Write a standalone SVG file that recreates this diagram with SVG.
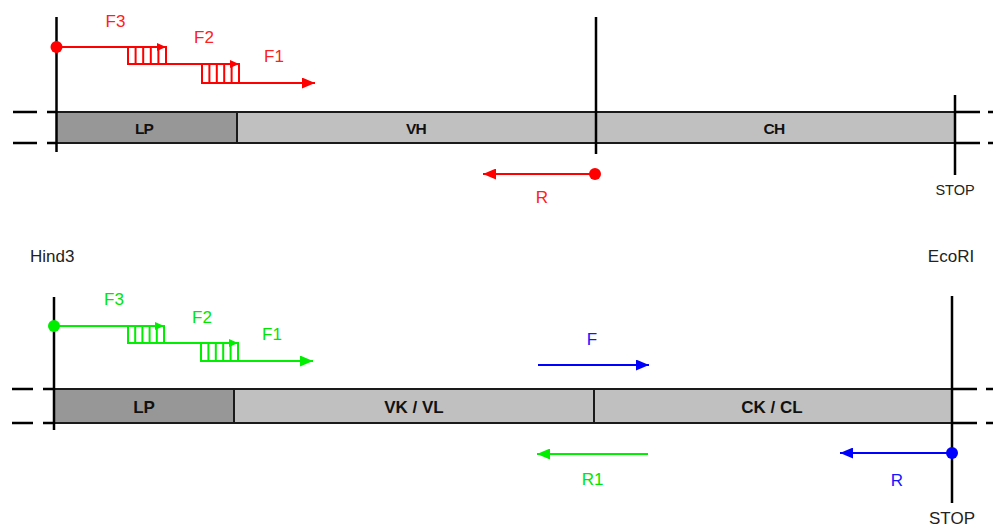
<svg xmlns="http://www.w3.org/2000/svg" width="993" height="528" viewBox="0 0 993 528">
  <style>
    .axis { stroke: #000; stroke-width: 2.5; fill: none; }
    .dash { stroke: #000; stroke-width: 2.5; fill: none; }
    .seg { stroke: #1a1a1a; stroke-width: 2; }
    .lp { fill: #979797; }
    .var { fill: #c0c0c0; }
    .red { stroke: #ff0000; stroke-width: 2; fill: none; }
    .grn { stroke: #00ee00; stroke-width: 2; fill: none; }
    .blu { stroke: #0000ff; stroke-width: 2; fill: none; }
    .lbl { font-family: "Liberation Sans", Arial, sans-serif; font-size: 17px; text-anchor: middle; }
    .seglbl { font-family: "Liberation Sans", Arial, sans-serif; font-size: 17px; font-weight: bold; text-anchor: middle; fill: #111; }
    .seglbl-top { font-family: "Liberation Sans", Arial, sans-serif; font-size: 15.5px; font-weight: bold; letter-spacing: -0.8px; text-anchor: middle; fill: #111; }
    .site { font-family: "Liberation Sans", Arial, sans-serif; font-size: 17px; fill: #222; }
    .tr { fill: #ff2020; }
    .tg { fill: #00e600; }
    .tb { fill: #1515ff; }
  </style>
  <defs>
    <marker id="headR" markerUnits="userSpaceOnUse" markerWidth="13" markerHeight="11" refX="13" refY="5.5" orient="auto">
      <path d="M0,0 L13,5.5 L0,11 z" fill="#ff0000"/>
    </marker>
    <marker id="headG" markerUnits="userSpaceOnUse" markerWidth="13" markerHeight="11" refX="13" refY="5.5" orient="auto">
      <path d="M0,0 L13,5.5 L0,11 z" fill="#00ee00"/>
    </marker>
    <marker id="headB" markerUnits="userSpaceOnUse" markerWidth="13" markerHeight="11" refX="13" refY="5.5" orient="auto">
      <path d="M0,0 L13,5.5 L0,11 z" fill="#0000ff"/>
    </marker>
    <marker id="tipR" markerUnits="userSpaceOnUse" markerWidth="9" markerHeight="8" refX="9" refY="4" orient="auto">
      <path d="M0,0 L9,4 L0,8 z" fill="#ff0000"/>
    </marker>
    <marker id="tipG" markerUnits="userSpaceOnUse" markerWidth="9" markerHeight="8" refX="9" refY="4" orient="auto">
      <path d="M0,0 L9,4 L0,8 z" fill="#00ee00"/>
    </marker>
  </defs>

  <!-- heavy chain construct -->
  <g id="heavy-chain">
    <rect class="lp" x="57" y="112" width="180" height="31"/>
    <rect class="var" x="237" y="112" width="718" height="31"/>
    <path class="seg" d="M57,112 H955 M57,143 H955 M237,112 V143"/>
    <path class="dash" d="M13,112 H37 M47,112 H57 M13,143 H37 M47,143 H57 M955,112 H980 M988,112 H993 M955,143 H980 M988,143 H993"/>
    <path class="axis" d="M56.5,17 V152 M596,17 V154 M955,95 V175"/>
  </g>
  <g id="seg-lp-h"><text class="seglbl-top" x="144" y="134">LP</text></g>
  <g id="seg-vh"><text class="seglbl-top" x="416" y="134">VH</text></g>
  <g id="seg-ch"><text class="seglbl-top" x="774" y="134">CH</text></g>
  <g id="stop-h"><text class="lbl" style="font-size:14.5px" x="955" y="195" fill="#222">STOP</text></g>

  <!-- light chain construct -->
  <g id="light-chain">
    <rect class="lp" x="55" y="389" width="179" height="34"/>
    <rect class="var" x="234" y="389" width="718" height="34"/>
    <path class="seg" d="M55,389 H952 M55,423 H952 M234,389 V423 M594,389 V423"/>
    <path class="dash" d="M12,389 H33 M43,389 H54 M12,423 H33 M43,423 H54 M952,389 H977 M986,389 H993 M952,423 H977 M986,423 H993"/>
    <path class="axis" d="M54,297 V430 M952,296 V503"/>
  </g>
  <g id="seg-lp-l"><text class="seglbl" x="144" y="413">LP</text></g>
  <g id="seg-vl"><text class="seglbl" x="414" y="413">VK / VL</text></g>
  <g id="seg-cl"><text class="seglbl" x="772" y="413">CK / CL</text></g>
  <g id="site-hind3"><text class="site" x="30" y="262">Hind3</text></g>
  <g id="site-ecori"><text class="site" x="951" y="262" text-anchor="middle">EcoRI</text></g>
  <g id="stop-l"><text class="lbl" x="952" y="524" fill="#222">STOP</text></g>

  <!-- primers -->
  <g id="connectors">
    <!-- heavy chain forward primers F3/F2/F1 -->
    <g id="primers-h-fwd">
      <circle cx="56.5" cy="47" r="6" fill="#ff0000"/>
      <path class="red" d="M56,47 H166" marker-end="url(#tipR)"/>
      <rect class="red" x="128" y="47" width="38" height="17"/>
      <path class="red" d="M135.6,47 V64 M143.2,47 V64 M150.8,47 V64 M158.4,47 V64"/>
      <path class="red" d="M128,64 H239" marker-end="url(#tipR)"/>
      <rect class="red" x="202" y="64" width="37" height="19"/>
      <path class="red" d="M209.4,64 V83 M216.8,64 V83 M224.2,64 V83 M231.6,64 V83"/>
      <path class="red" d="M202,83 H315" marker-end="url(#headR)"/>
    </g>
    <!-- heavy chain reverse primer -->
    <g id="primer-h-rev">
      <circle cx="595" cy="174" r="6" fill="#ff0000"/>
      <path class="red" d="M595,174 H483" marker-end="url(#headR)"/>
    </g>
    <!-- light chain forward primers F3/F2/F1 -->
    <g id="primers-l-fwd">
      <circle cx="54" cy="326" r="6" fill="#00ee00"/>
      <path class="grn" d="M54,326 H164" marker-end="url(#tipG)"/>
      <rect class="grn" x="128" y="326" width="36" height="17"/>
      <path class="grn" d="M135.2,326 V343 M142.4,326 V343 M149.6,326 V343 M156.8,326 V343"/>
      <path class="grn" d="M128,343 H238" marker-end="url(#tipG)"/>
      <rect class="grn" x="201" y="343" width="37" height="18"/>
      <path class="grn" d="M208.4,343 V361 M215.8,343 V361 M223.2,343 V361 M230.6,343 V361"/>
      <path class="grn" d="M201,361 H313" marker-end="url(#headG)"/>
    </g>
    <g id="primer-l-r1">
      <path class="grn" d="M648,454 H537" marker-end="url(#headG)"/>
    </g>
    <g id="primer-c-f">
      <path class="blu" d="M538,365 H649" marker-end="url(#headB)"/>
    </g>
    <g id="primer-c-r">
      <circle cx="952" cy="453" r="6" fill="#0000ff"/>
      <path class="blu" d="M952,453 H840" marker-end="url(#headB)"/>
    </g>
  </g>

  <!-- primer labels -->
  <g id="labels">
    <text class="lbl tr" x="115.5" y="27">F3</text>
    <text class="lbl tr" x="204" y="43">F2</text>
    <text class="lbl tr" x="274" y="62">F1</text>
    <text class="lbl tr" x="542" y="203">R</text>
    <text class="lbl tg" x="114" y="305">F3</text>
    <text class="lbl tg" x="202" y="323">F2</text>
    <text class="lbl tg" x="272" y="340">F1</text>
    <text class="lbl tg" x="592.5" y="485">R1</text>
    <text class="lbl tb" x="592" y="345">F</text>
    <text class="lbl tb" x="897" y="486">R</text>
  </g>
</svg>
